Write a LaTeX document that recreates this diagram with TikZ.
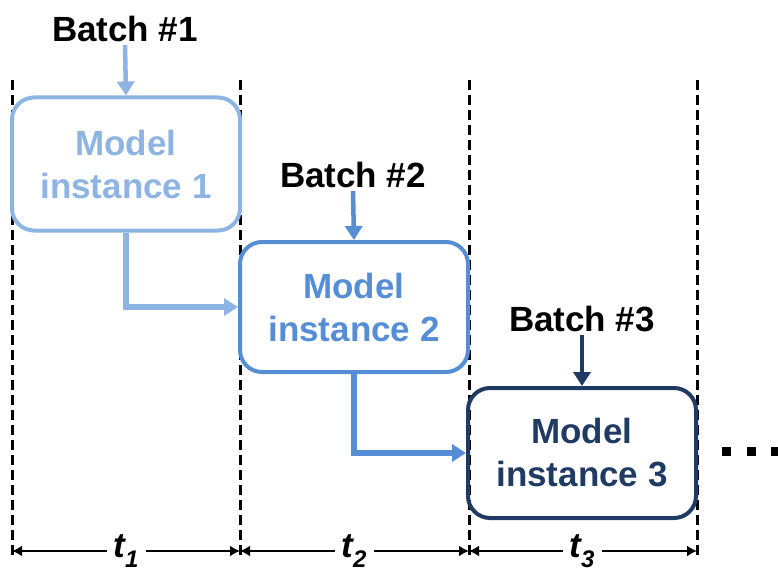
\documentclass[tikz,border=0pt]{standalone}
\usepackage{fontspec}
\setmainfont{Liberation Sans}
\usetikzlibrary{arrows.meta}
\definecolor{cA}{HTML}{8DB4E2}
\definecolor{cB}{HTML}{558ED5}
\definecolor{cC}{HTML}{1F3B64}
\begin{document}
\begin{tikzpicture}[x=1pt,y=-1pt,
  model/.style={draw=#1,text=#1,line width=4pt,rounded corners=22pt,minimum width=228pt,minimum height=130pt,align=center,font=\fontsize{35}{43}\selectfont\bfseries,inner sep=0pt},
  batch/.style={font=\fontsize{35}{40}\selectfont\bfseries,inner sep=3pt},
  flow/.style={draw=#1,line width=6pt,-{Triangle[width=17pt,length=14pt]}},
  sep/.style={line width=3pt,dash pattern=on 10pt off 5pt},
  dim/.style={line width=2.6pt,{Latex[length=10pt,width=11pt]}-{Latex[length=10pt,width=11pt]}},
  tlab/.style={fill=white,inner xsep=7pt,inner ysep=0pt,font=\fontsize{35}{35}\selectfont\bfseries\itshape,anchor=base}
]
\useasboundingbox (0,0) rectangle (778,567);
% separators
\coordinate (s1t) at (12,80);  \coordinate (s1b) at (12,557);
\coordinate (s2t) at (240,80); \coordinate (s2b) at (240,557);
\coordinate (s3t) at (469,80); \coordinate (s3b) at (469,557);
\coordinate (s4t) at (697,80); \coordinate (s4b) at (697,557);
\draw[sep] (s1t) -- (s1b);
\draw[sep] (s2t) -- (s2b);
\draw[sep] (s3t) -- (s3b);
\draw[sep] (s4t) -- (s4b);
% boxes
\node[model=cA,minimum height=133pt] (m1) at (126,164) {Model\\instance 1};
\node[model=cB] (m2) at (354,307) {Model\\instance 2};
\node[model=cC] (m3) at (582,453) {Model\\instance 3};
% batches
\node[batch] (b1) at (125,29) {Batch \#1};
\node[batch] (b2) at (353,175) {Batch \#2};
\node[batch] (b3) at (582,319) {Batch \#3};
\draw[flow=cA,line width=4.5pt] (b1.south) -- (m1.north);
\draw[flow=cB,line width=4.5pt] (b2.south) -- (m2.north);
\draw[flow=cC,line width=4.5pt] (b3.south) -- (m3.north);
\draw[flow=cA] (m1.south) |- (m2.west);
\draw[flow=cB] (m2.south) |- (m3.west);
% dots
\fill (722,447) rectangle (731,456);
\fill (747,447) rectangle (756,456);
\fill (771,447) rectangle (780,456);
% time spans
\coordinate (d1) at (12,551); \coordinate (d2) at (240,551);
\coordinate (d3) at (469,551); \coordinate (d4) at (697,551);
\draw[dim] (d1) -- (d2);
\draw[dim] (d2) -- (d3);
\draw[dim] (d3) -- (d4);
\node[tlab] (t1) at (126,557) {\rule[-14pt]{0pt}{49pt}t\raisebox{-10pt}{\fontsize{24}{24}\selectfont 1}};
\node[tlab] (t2) at (354,557) {\rule[-14pt]{0pt}{49pt}t\raisebox{-10pt}{\fontsize{24}{24}\selectfont 2}};
\node[tlab] (t3) at (582,557) {\rule[-14pt]{0pt}{49pt}t\raisebox{-10pt}{\fontsize{24}{24}\selectfont 3}};
\end{tikzpicture}
\end{document}
